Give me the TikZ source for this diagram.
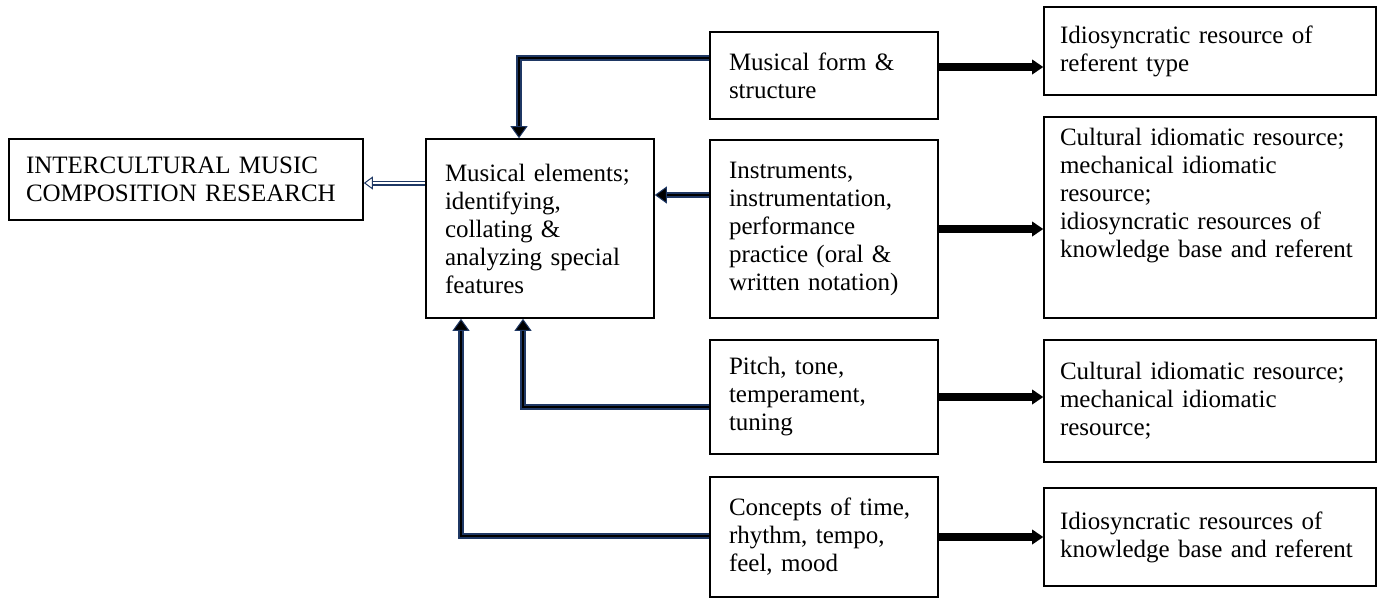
\documentclass[tikz,border=0pt]{standalone}
\usepackage{fontspec}
\setmainfont{Liberation Serif}
\usepackage{xcolor}
\usetikzlibrary{arrows.meta, calc}

\definecolor{navy}{RGB}{31,56,100}

\begin{document}
\begin{tikzpicture}[
  x=1pt, y=-1pt,
  every node/.style={font=\fontsize{25}{28}\selectfont},
  cell/.style={draw, line width=1.6pt, align=left, inner xsep=0pt,
               minimum width=228pt, text width=190pt},
  wide/.style={cell, minimum width=332pt, text width=300pt},
  feed/.style={draw=navy, double=black, line width=1.6pt, double distance=2.6pt,
               -{Triangle[length=12pt, width=17pt, line width=1pt, fill=black]}},
  hollow/.style={draw=navy, double=white, line width=1.3pt, double distance=2.4pt,
                 -{Triangle[length=9pt, width=13pt, line width=1pt, fill=white]}},
  push/.style={line width=7.5pt,
               -{Triangle[length=11pt, width=15pt, line width=0pt]}}
]
\useasboundingbox (0,0) rectangle (1384,600);

% ---- left side ----
\node[cell, minimum width=354pt, minimum height=81pt, text width=320pt]
  (res) at (186,179.5) {INTERCULTURAL MUSIC\\COMPOSITION RESEARCH};
\node[cell, minimum height=179pt] (elem) at (540,228.5)
  {Musical elements;\\identifying,\\collating \&\\analyzing special\\features};

% ---- middle column ----
\node[cell, minimum height=87pt] (form) at (824,75.5)
  {Musical form \&\\structure};
\node[cell, minimum height=178pt] (instr) at (824,229)
  {Instruments,\\instrumentation,\\performance\\practice (oral \&\\written notation)};
\node[cell, minimum height=114pt] (pitch) at (824,397)
  {Pitch, tone,\\temperament,\\tuning};
\node[cell, minimum height=120pt] (concept) at (824,537)
  {Concepts of time,\\rhythm, tempo,\\feel, mood};

% ---- right column ----
\node[wide, minimum height=88pt] (r1) at (1210,51)
  {Idiosyncratic resource of\\referent type};
\node[wide, minimum height=201pt] (r2) at (1210,217.5)
  {Cultural idiomatic resource;\\mechanical idiomatic\\resource;\\idiosyncratic resources of\\knowledge base and referent\\[22pt]\mbox{}};
\node[wide, minimum height=122pt] (r3) at (1210,401)
  {Cultural idiomatic resource;\\mechanical idiomatic\\resource;};
\node[wide, minimum height=98pt] (r4) at (1210,537)
  {Idiosyncratic resources of\\knowledge base and referent};

% bend points
\coordinate (k1) at (519,58);
\coordinate (k2) at (0,195);
\coordinate (k3) at (523,407);
\coordinate (k4) at (461,536);
\coordinate (k5) at (0,183);
\coordinate (k6) at (0,67);

% ---- connectors into the elements box ----
\draw[feed] (form.west |- k1) -- (k1) -- (k1 |- elem.north);
\draw[feed] (instr.west |- k2) -- (elem.east |- k2);
\draw[feed] (pitch.west |- k3) -- (k3) -- (k3 |- elem.south);
\draw[feed] (concept.west |- k4) -- (k4) -- (k4 |- elem.south);
\draw[hollow] (elem.west |- k5) -- (res.east |- k5);

% ---- outputs ----
\draw[push] (form.east |- k6) -- (r1.west |- k6);
\draw[push] (instr.east) -- (instr.east -| r2.west);
\draw[push] (pitch.east) -- (pitch.east -| r3.west);
\draw[push] (concept.east) -- (concept.east -| r4.west);

\end{tikzpicture}
\end{document}
